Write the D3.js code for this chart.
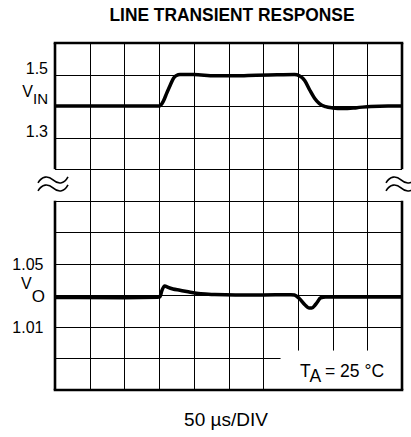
<!DOCTYPE html>
<html>
<head>
<meta charset="utf-8">
<script src="https://cdn.jsdelivr.net/npm/d3@7"></script>
<style>
  body { margin: 0; background: #fff; }
  text { font-family: "Liberation Sans", Arial, sans-serif; fill: #000; }
</style>
</head>
<body>
<script>
// time axis, 50 us per division
var timeGrid = d3.range(50, 500, 50)

// input step, volts
var vinTime  = [0, 100, 150, 152, 156, 161, 166, 171, 175, 180, 200, 230, 260, 290, 320, 345, 352, 360, 367, 374, 381, 390, 400, 415, 435, 455, 480, 500]
var vinValue = [1.4, 1.4, 1.4, 1.402, 1.415, 1.441, 1.466, 1.489, 1.497, 1.5, 1.5, 1.496, 1.496, 1.498, 1.499, 1.5, 1.496, 1.48, 1.451, 1.425, 1.408, 1.398, 1.394, 1.392, 1.395, 1.399, 1.4, 1.4]

// output response, volts
var voTime  = [0, 100, 148, 151, 154, 158, 163, 170, 180, 195, 210, 230, 260, 300, 340, 345, 352, 360, 366, 370, 376, 383, 390, 450, 500]
var voValue = [1.0287, 1.0285, 1.0288, 1.029, 1.033, 1.036, 1.035, 1.034, 1.0333, 1.032, 1.031, 1.0305, 1.0302, 1.0303, 1.0304, 1.0302, 1.028, 1.024, 1.022, 1.022, 1.0245, 1.0285, 1.029, 1.029, 1.029]

var vinGrid = [1.5, 1.4, 1.3, 1.2]
var voGrid = [1.09, 1.07, 1.05, 1.03, 1.01, 0.99]
var vinLabels = ["1.5", "1.3"]
var voLabels = ["1.05", "1.01"]

var svg = d3.select("body").append("svg").attr("width", 411).attr("height", 437)

var x = d3.scaleLinear().domain([0, 500]).range([55, 402])
// 11 screen divisions top to bottom (4 input, 1 break, 6 output)
var row = d3.scaleLinear().domain([0, 11]).range([43, 390])
var yIn = d3.scaleLinear().domain([1.6, 1.2]).range([row(0), row(4)])
var yOut = d3.scaleLinear().domain([1.09, 0.97]).range([row(5), row(11)])

var gridX = d3.axisBottom(x).tickValues(timeGrid).tickSize(row(0) - row(11)).tickFormat("")
var gridIn = d3.axisLeft(yIn).tickValues(vinGrid).tickSize(x(0) - x(500)).tickFormat("")
var gridOut = d3.axisLeft(yOut).tickValues(voGrid).tickSize(x(0) - x(500)).tickFormat("")

svg.append("g").attr("class", "grid").attr("transform", "translate(0," + row(11) + ")").call(gridX)
svg.append("g").attr("class", "grid").attr("transform", "translate(" + x(0) + ",0)").call(gridIn)
svg.append("g").attr("class", "grid").attr("transform", "translate(" + x(0) + ",0)").call(gridOut)
svg.selectAll(".grid .domain").remove()
svg.selectAll(".grid line").attr("stroke", "#000").attr("stroke-width", 1).attr("shape-rendering", "crispEdges")

// blank box for the temperature note
svg.append("rect")
    .attr("x", x(325)).attr("y", yOut(0.995))
    .attr("width", x(500) - x(325)).attr("height", yOut(0.97) - yOut(0.995))
    .attr("fill", "#fff")

// frame: top, bottom, and sides broken between the two panels
var frame = svg.append("g").attr("stroke", "#000").attr("stroke-width", 2.6).attr("fill", "none")
frame.append("line").attr("x1", x(0) - 1.3).attr("x2", x(500) + 1.3).attr("y1", row(0)).attr("y2", row(0))
frame.append("line").attr("x1", x(0) - 1.3).attr("x2", x(500) + 1.3).attr("y1", row(11)).attr("y2", row(11))
;[x(0), x(500)].forEach(function(px) {
    frame.append("line").attr("x1", px).attr("x2", px).attr("y1", row(0)).attr("y2", row(4))
    frame.append("line").attr("x1", px).attr("x2", px).attr("y1", row(5)).attr("y2", row(11))
})

// break marks
var breakY = (row(4) + row(5)) / 2 - 1
;[x(0) - 2, x(500) - 1].forEach(function(px) {
    [-4, 4].forEach(function(dy) {
        svg.append("path")
            .attr("d", "M-15,3 C-11,-4 -5,-4.5 0,0 S11,4.5 15,-3")
            .attr("transform", "translate(" + px + "," + (breakY + dy) + ")")
            .attr("fill", "none").attr("stroke", "#000").attr("stroke-width", 1.6)
    })
})

var lineIn = d3.line().x(function(d, i) { return x(vinTime[i]) }).y(function(d) { return yIn(d) }).curve(d3.curveMonotoneX)
var lineOut = d3.line().x(function(d, i) { return x(voTime[i]) }).y(function(d) { return yOut(d) }).curve(d3.curveMonotoneX)

svg.append("path").attr("d", lineIn(vinValue))
    .attr("fill", "none").attr("stroke", "#000").attr("stroke-width", 3.5).attr("stroke-linejoin", "round")
svg.append("path").attr("d", lineOut(voValue))
    .attr("fill", "none").attr("stroke", "#000").attr("stroke-width", 3.5).attr("stroke-linejoin", "round")

// labels
svg.append("text").attr("x", 232).attr("y", 21).attr("text-anchor", "middle")
    .attr("font-size", 18).attr("font-weight", "bold")
    .attr("textLength", 245).attr("lengthAdjust", "spacingAndGlyphs")
    .text("LINE TRANSIENT RESPONSE")

svg.selectAll(".vinLabel").data(vinLabels).enter().append("text")
    .attr("x", 48).attr("y", function(d) { return yIn(+d) - 1 })
    .attr("text-anchor", "end").attr("font-size", 16)
    .text(function(d) { return d })

svg.selectAll(".voLabel").data(voLabels).enter().append("text")
    .attr("x", 43.5).attr("y", function(d) { return yOut(+d) + 6 })
    .attr("text-anchor", "end").attr("font-size", 16)
    .text(function(d) { return d })

var vin = svg.append("text").attr("x", 48).attr("y", yIn(1.4) - 9).attr("text-anchor", "end").attr("font-size", 16)
vin.append("tspan").text("V")
vin.append("tspan").attr("dy", 7).attr("font-size", 15).text("IN")

var vo = svg.append("text").attr("x", 45).attr("y", yOut(1.03) - 6).attr("text-anchor", "end").attr("font-size", 16)
vo.append("tspan").text("V")
vo.append("tspan").attr("dy", 13).attr("font-size", 17).text("O")

var ta = svg.append("text").attr("x", 300).attr("y", 377).attr("font-size", 17.5)
ta.append("tspan").text("T")
ta.append("tspan").attr("dy", 5).text("A")
ta.append("tspan").attr("dy", -5).text(" = 25 °C")

svg.append("text").attr("x", 226).attr("y", 426).attr("text-anchor", "middle").attr("font-size", 19)
    .text("50 µs/DIV")
</script>
</body>
</html>
